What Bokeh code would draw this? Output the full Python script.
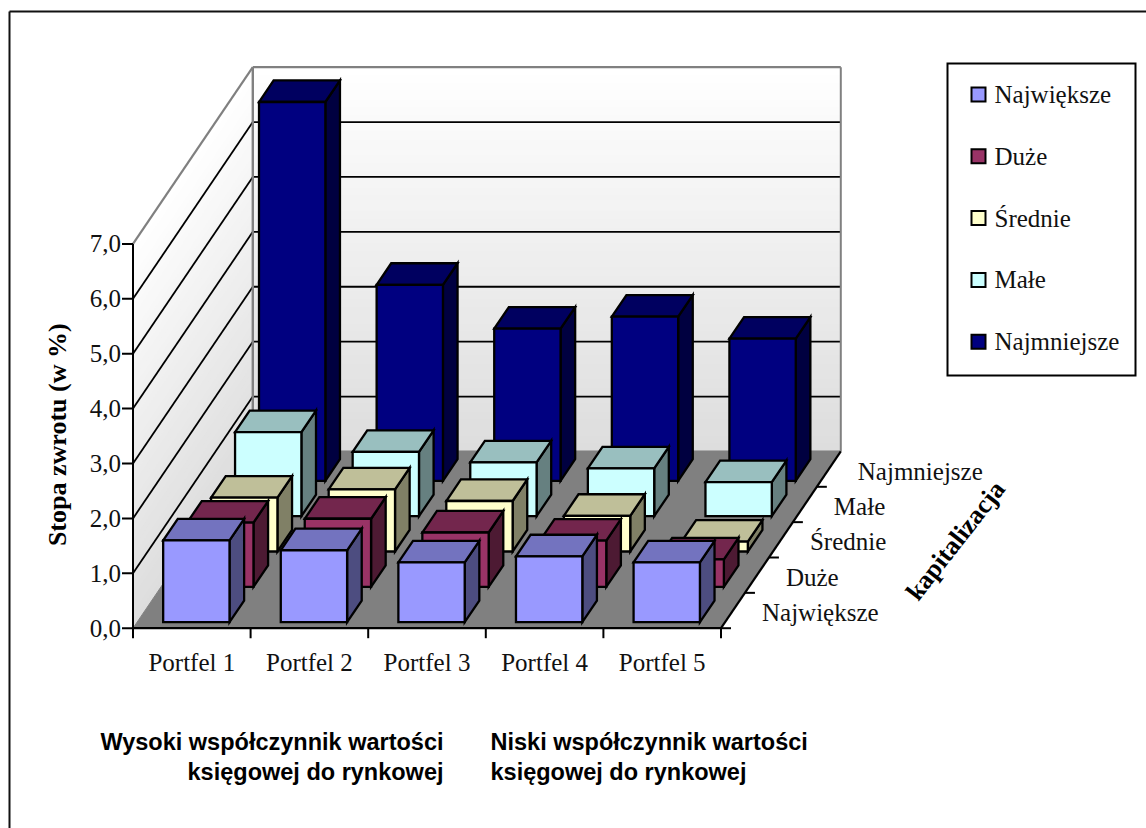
from math import radians, pi
from bokeh.plotting import figure
from bokeh.models import Range1d
from bokeh.core.properties import value
from bokeh.embed import file_html
from bokeh.resources import INLINE

# ---- data ----
portfolios = ["Portfel 1", "Portfel 2", "Portfel 3", "Portfel 4", "Portfel 5"]
series_names = ["Największe", "Duże", "Średnie", "Małe", "Najmniejsze"]
largest = [1.49, 1.31, 1.09, 1.20, 1.09]
big = [1.17, 1.24, 0.99, 0.84, 0.50]
medium = [0.98, 1.13, 0.92, 0.65, 0.18]
small = [1.53, 1.17, 0.98, 0.87, 0.62]
smallest = [6.90, 3.57, 2.77, 2.99, 2.59]
y_ticks = [0, 1, 2, 3, 4, 5, 6, 7]
y_tick_labels = ["0,0", "1,0", "2,0", "3,0", "4,0", "5,0", "6,0", "7,0"]
y_title = "Stopa zwrotu  (w %)"
depth_title = "kapitalizacja"
note_left = ["Wysoki współczynnik wartości", "księgowej do rynkowej"]
note_right = ["Niski współczynnik wartości", "księgowej do rynkowej"]

series = [largest, big, medium, small, smallest]
front_cols = ["#9999FF", "#993366", "#FFFFCC", "#CCFFFF", "#000080"]
top_cols = ["#7373BF", "#73264D", "#BFBF99", "#99BFBF", "#000060"]
side_cols = ["#4D4D80", "#4D1A33", "#808066", "#668080", "#000040"]

# ---- oblique projection of the 3D chart box to page pixels ----
X0, Y0 = 132.5, 627.7
CAT_W, DX, DY, UNIT = 117.6, 23.96, 35.35, 54.9
N_CAT, N_DEPTH, Y_MAX = len(portfolios), len(series_names), y_ticks[-1]


def proj(c, d, v):
    return X0 + c * CAT_W + d * DX, Y0 - d * DY - v * UNIT


FW, FH = 1146, 828
p = figure(width=FW, height=FH, x_range=Range1d(0, FW), y_range=Range1d(FH, 0),
           output_backend="svg", toolbar_location=None, min_border=0)
p.axis.visible = False
p.grid.visible = False
p.outline_line_color = None
p.background_fill_color = "white"
p.border_fill_color = "white"

SERIF = value("Liberation Serif")
SANS = value("Liberation Sans")


def poly(pts, fill, line=None, lw=2.3):
    xs, ys = zip(*pts)
    p.patch(list(xs), list(ys), fill_color=fill, line_color=line, line_width=lw, line_join="miter")


def seg(a, b, color="black", lw=2.0):
    p.line([a[0], b[0]], [a[1], b[1]], line_color=color, line_width=lw, line_cap="butt")


def label(x, y, txt, size="25px", align="left", font=SERIF, style="normal", angle=0.0, color="#111111"):
    p.text([x], [y], text=[txt], text_font=font, text_font_size=size, text_align=align,
           text_baseline="middle", text_font_style=style, angle=angle, text_color=color)


# outer frame
seg((9, 11), (FW, 11), "#111111", 2)
seg((9, 11), (9, FH), "#111111", 2)

# walls with vertical gradient
BANDS = 48
for b in range(BANDS):
    f0, f1 = b / BANDS, (b + 1) / BANDS
    g = int(round(0xDD + (0xFF - 0xDD) * (f0 + f1) / 2))
    col = "#%02X%02X%02X" % (g, g, g)
    v0, v1 = f0 * Y_MAX, min(f1 + 0.004, 1) * Y_MAX
    poly([proj(0, N_DEPTH, v0), proj(N_CAT, N_DEPTH, v0), proj(N_CAT, N_DEPTH, v1), proj(0, N_DEPTH, v1)], col)
    poly([proj(0, 0, v0), proj(0, N_DEPTH, v0), proj(0, N_DEPTH, v1), proj(0, 0, v1)], col)

# floor
poly([proj(0, 0, 0), proj(N_CAT, 0, 0), proj(N_CAT, N_DEPTH, 0), proj(0, N_DEPTH, 0)], "#808080", "#808080", 1)

# gridlines
for v in y_ticks[1:-1]:
    seg(proj(0, 0, v), proj(0, N_DEPTH, v), "#000000", 1.8)
    seg(proj(0, N_DEPTH, v), proj(N_CAT, N_DEPTH, v), "#000000", 1.8)

# grey wall edges
seg(proj(0, 0, Y_MAX), proj(0, N_DEPTH, Y_MAX), "#808080", 2.2)
seg(proj(0, N_DEPTH, Y_MAX), proj(N_CAT, N_DEPTH, Y_MAX), "#808080", 2.4)
seg(proj(0, N_DEPTH, 0), proj(0, N_DEPTH, Y_MAX), "#808080", 2.4)
seg(proj(N_CAT, N_DEPTH, 0), proj(N_CAT, N_DEPTH, Y_MAX), "#808080", 2)
seg(proj(0, N_DEPTH, 0), proj(N_CAT, N_DEPTH, 0), "#808080", 2)

# axes
seg(proj(0, 0, 0), proj(0, 0, Y_MAX), "#000000", 2)
seg(proj(0, 0, 0), proj(N_CAT, 0, 0), "#000000", 2.2)
seg(proj(N_CAT, 0, 0), proj(N_CAT, N_DEPTH, 0), "#000000", 2.2)
for v, t in zip(y_ticks, y_tick_labels):
    x, y = proj(0, 0, v)
    seg((x - 11, y), (x, y), "#000000", 2)
    label(x - 12, y, t, align="right")
for c in range(N_CAT + 1):
    x, y = proj(c, 0, 0)
    seg((x, y), (x, y + 10), "#000000", 2)
for c, t in enumerate(portfolios):
    x, y = proj(c + 0.5, 0, 0)
    label(x, y + 34, t, align="center")
for d, t in enumerate(series_names):
    x, y = proj(N_CAT, d, 0)
    seg((x, y), (x + 10, y), "#000000", 2)
    x, y = proj(N_CAT, d + 0.5, 0)
    label(x + 29, y + 2, t)

# bars, back to front
C_OFF, C_W, D_OFF, D_W = 0.222, 0.564, 0.17, 0.61
for j in reversed(range(N_DEPTH)):
    for i in range(N_CAT):
        h = series[j][i]
        c0, c1 = i + C_OFF, i + C_OFF + C_W
        d0, d1 = j + D_OFF, j + D_OFF + D_W
        poly([proj(c1, d0, 0), proj(c1, d1, 0), proj(c1, d1, h), proj(c1, d0, h)], side_cols[j], "#000000")
        poly([proj(c0, d0, h), proj(c1, d0, h), proj(c1, d1, h), proj(c0, d1, h)], top_cols[j], "#000000")
        poly([proj(c0, d0, 0), proj(c1, d0, 0), proj(c1, d0, h), proj(c0, d0, h)], front_cols[j], "#000000")

# titles and notes
label(57, 431, y_title, size="26px", align="center", style="bold", angle=pi / 2, color="#000000")
label(955, 540, depth_title, size="26px", align="center", style="bold", angle=radians(52), color="#000000")
for k, t in enumerate(note_left):
    label(443, 741 + k * 30.5, t, size="23.5px", align="right", font=SANS, style="bold", color="#000000")
for k, t in enumerate(note_right):
    label(490, 741 + k * 30.5, t, size="23.5px", align="left", font=SANS, style="bold", color="#000000")

# legend
poly([(947, 63), (1135, 63), (1135, 375), (947, 375)], "#FFFFFF", "#000000", 2)
for j, t in enumerate(series_names):
    yc = 94 + j * 61.8
    poly([(971, yc - 7), (985, yc - 7), (985, yc + 7), (971, yc + 7)], front_cols[j], "#000000", 2)
    label(994, yc, t)

open("out.html", "w").write(file_html(p, INLINE))
